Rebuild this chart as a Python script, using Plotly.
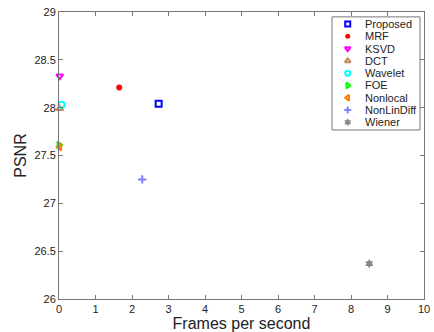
import plotly.graph_objects as go

methods = ["Proposed", "MRF", "KSVD", "DCT", "Wavelet", "FOE", "Nonlocal", "NonLinDiff", "Wiener"]
fps = [2.73, 1.65, 0.02, 0.02, 0.07, 0.0, 0.02, 2.28, 8.5]
psnr = [28.04, 28.21, 28.33, 27.99, 28.03, 27.61, 27.59, 27.25, 26.37]
symbols = ["square-open", "circle", "triangle-down-open", "triangle-up-open", "circle-open",
           "triangle-right-open", "triangle-left-open", "cross-thin", "hexagram"]
colors = ["#0000ff", "#ff0000", "#ff00ff", "#c08a5a", "#00ffff", "#00ff00", "#ff8000", "#8080ff", "#888888"]
xticks = list(range(0, 11))
yticks = [26, 26.5, 27, 27.5, 28, 28.5, 29]


def marker_style(sym, color, base):
    open_ = sym.endswith("open") or sym == "cross-thin"
    size = base
    if sym == "hexagram":
        size = base + 1
    return dict(symbol=sym, size=size, color=color,
                line=dict(width=2 if open_ else 0, color=color))


fig = go.Figure()
for i, m in enumerate(methods):
    fig.add_trace(go.Scatter(
        x=[fps[i]], y=[psnr[i]], mode="markers", name=m, showlegend=False, cliponaxis=False,
        marker=marker_style(symbols[i], colors[i], 6),
    ))

# compact legend (layout only) on an overlay axis
lx0, lx1, ly0, ly1 = 0.748, 0.989, 0.589, 0.983
step = 0.0428
top = 0.958
for i, m in enumerate(methods):
    fig.add_trace(go.Scatter(
        x=[0.791], y=[top - i * step], xaxis="x2", yaxis="y2", mode="markers", showlegend=False,
        hoverinfo="skip", cliponaxis=False,
        marker=marker_style(symbols[i], colors[i], 5),
    ))
    fig.add_annotation(x=0.833, y=top - i * step, xref="paper", yref="paper", text=m,
                       showarrow=False, xanchor="left", yanchor="middle",
                       font=dict(size=11, color="#222", family="Liberation Sans, Arial"))
fig.add_shape(type="rect", xref="paper", yref="paper", x0=lx0, x1=lx1, y0=ly0, y1=ly1,
              line=dict(color="#777", width=1), fillcolor="white", layer="below")

axis_common = dict(showgrid=False, zeroline=False, showline=True, linecolor="#777", linewidth=1,
                   mirror="ticks", ticks="inside", ticklen=4, tickcolor="#777",
                   tickfont=dict(size=11, color="#222", family="Liberation Sans, Arial"))
fig.update_layout(
    width=434, height=332, autosize=False,
    margin=dict(l=59, r=10, t=12, b=33),
    paper_bgcolor="white", plot_bgcolor="white",
    xaxis=dict(range=[0, 10], tickvals=xticks, automargin=False,
               title=dict(text="Frames per second", standoff=4,
                          font=dict(size=16, color="#222", family="Liberation Sans, Arial")),
               **axis_common),
    yaxis=dict(range=[26, 29], tickvals=yticks, ticktext=[f"{v:g}" for v in yticks], automargin=False,
               title=dict(text="PSNR", standoff=3,
                          font=dict(size=16, color="#222", family="Liberation Sans, Arial")),
               **axis_common),
    xaxis2=dict(range=[0, 1], overlaying="x", visible=False, fixedrange=True),
    yaxis2=dict(range=[0, 1], overlaying="y", visible=False, fixedrange=True),
    showlegend=False,
)
fig.write_html("out.html", config={"displayModeBar": False},
               post_script="document.body.style.margin='0';document.body.style.overflow='hidden';")
